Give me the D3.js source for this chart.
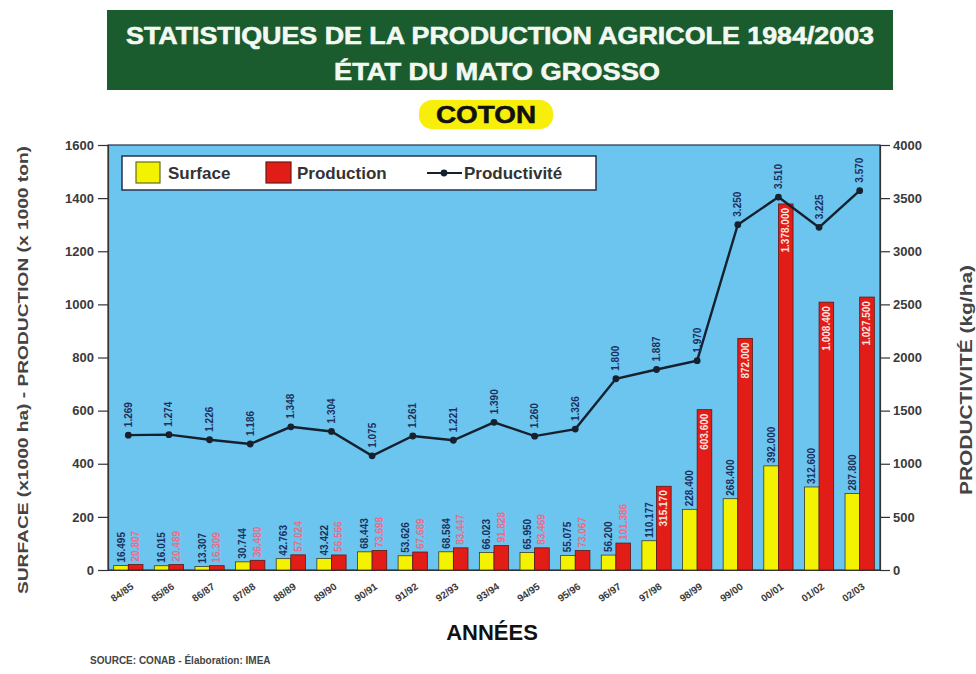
<!DOCTYPE html>
<html>
<head>
<meta charset="utf-8">
<script src="https://cdn.jsdelivr.net/npm/d3@7"></script>
<style>
  html, body { margin: 0; padding: 0; background: #ffffff; }
  svg { display: block; }
  text { font-family: "Liberation Sans", Arial, sans-serif; }
</style>
</head>
<body>
<svg id="chart" width="976" height="674"></svg>
<script>
// Crop years
const years = ["84/85","85/86","86/87","87/88","88/89","89/90","90/91","91/92","92/93","93/94",
               "94/95","95/96","96/97","97/98","98/99","99/00","00/01","01/02","02/03"];
// Planted area (x1000 ha)
const surface = [16.495, 16.015, 13.307, 30.744, 42.763, 43.422, 68.443, 53.626, 68.584, 66.023,
                 65.950, 55.075, 56.200, 110.177, 228.400, 268.400, 392.000, 312.600, 287.800];
// Production (x1000 ton)
const production = [20.807, 20.489, 16.309, 36.480, 57.024, 56.566, 73.698, 67.689, 83.447, 91.828,
                    83.469, 73.067, 101.386, 315.170, 603.600, 872.000, 1378.000, 1008.400, 1027.500];
// Yield (kg/ha)
const productivity = [1269, 1274, 1226, 1186, 1348, 1304, 1075, 1261, 1221, 1390,
                      1260, 1326, 1800, 1887, 1970, 3250, 3510, 3225, 3570];
const leftTicks = [0, 200, 400, 600, 800, 1000, 1200, 1400, 1600];
const rightTicks = [0, 500, 1000, 1500, 2000, 2500, 3000, 3500, 4000];

// Brazilian number formatting (dot as thousands separator, three decimals)
const fmt3 = v => {
  const s = v.toFixed(3).split(".");
  const intPart = s[0].replace(/\B(?=(\d{3})+(?!\d))/g, ".");
  return intPart + "." + s[1];
};
const fmtYield = v => {
  const s = String(v);
  return s.length > 3 ? s.slice(0, s.length - 3) + "." + s.slice(-3) : s;
};

const svg = d3.select("#chart");
const plot = { left: 108, right: 880, top: 145, bottom: 570 };

// Header banner
svg.append("rect").attr("x", 107).attr("y", 10).attr("width", 786).attr("height", 80)
  .attr("fill", "#1b5c2f");
svg.append("text").attr("x", 500).attr("y", 44).attr("text-anchor", "middle")
  .attr("fill", "#f4f8f2").attr("font-size", 24).attr("font-weight", "bold")
  .attr("stroke", "#f4f8f2").attr("stroke-width", 0.6)
  .attr("textLength", 748).attr("lengthAdjust", "spacingAndGlyphs")
  .text("STATISTIQUES DE LA PRODUCTION AGRICOLE 1984/2003");
svg.append("text").attr("x", 497).attr("y", 80).attr("text-anchor", "middle")
  .attr("fill", "#f4f8f2").attr("font-size", 24).attr("font-weight", "bold")
  .attr("stroke", "#f4f8f2").attr("stroke-width", 0.6)
  .attr("textLength", 326).attr("lengthAdjust", "spacingAndGlyphs")
  .text("ÉTAT DU MATO GROSSO");

// Crop badge
svg.append("rect").attr("x", 419).attr("y", 100).attr("width", 134).attr("height", 29)
  .attr("rx", 13).attr("fill", "#f7ee0a");
svg.append("text").attr("x", 486).attr("y", 123).attr("text-anchor", "middle")
  .attr("fill", "#111").attr("font-size", 23).attr("font-weight", "bold")
  .attr("stroke", "#111").attr("stroke-width", 0.5)
  .attr("textLength", 100).attr("lengthAdjust", "spacingAndGlyphs")
  .text("COTON");

// Scales
const x = d3.scaleBand().domain(years).range([plot.left, plot.right]).padding(0);
const yL = d3.scaleLinear().domain([0, 1600]).range([plot.bottom, plot.top]);
const yR = d3.scaleLinear().domain([0, 4000]).range([plot.bottom, plot.top]);
const bw = x.bandwidth();
const barW = bw * 0.36;
const cx = d => x(d) + bw / 2;

// Plot background
svg.append("rect").attr("x", plot.left).attr("y", plot.top)
  .attr("width", plot.right - plot.left).attr("height", plot.bottom - plot.top)
  .attr("fill", "#6cc5ef").attr("stroke", "#24324f").attr("stroke-width", 1.2);

// Axes
const axisStyle = g => {
  g.select(".domain").attr("stroke", "#333").attr("stroke-width", 1.2);
  g.selectAll(".tick line").attr("stroke", "#333").attr("stroke-width", 1.2);
  g.selectAll(".tick text").attr("fill", "#3a3a3a").attr("font-size", 13)
    .attr("font-weight", "bold");
};
svg.append("g").attr("transform", `translate(${plot.left},0)`)
  .call(d3.axisLeft(yL).tickValues(leftTicks).tickSize(10).tickPadding(4).tickFormat(d3.format("d")))
  .call(axisStyle);
svg.append("g").attr("transform", `translate(${plot.right},0)`)
  .call(d3.axisRight(yR).tickValues(rightTicks).tickSize(10).tickPadding(3).tickFormat(d3.format("d")))
  .call(axisStyle);

const xAxis = svg.append("g").attr("transform", `translate(0,${plot.bottom})`)
  .call(d3.axisBottom(x).tickSize(0).tickPadding(0));
xAxis.select(".domain").attr("stroke", "#333").attr("stroke-width", 1.2);
xAxis.selectAll(".tick text")
  .attr("fill", "#3a3a3a").attr("font-size", 10).attr("font-weight", "bold")
  .attr("text-anchor", "end").attr("dy", 0)
  .attr("transform", "translate(6,18) rotate(-35)");

// Bars
const bars = svg.append("g");
bars.selectAll("rect.surf").data(years).join("rect").attr("class", "surf")
  .attr("x", d => cx(d) - barW).attr("width", barW)
  .attr("y", (d, i) => yL(surface[i])).attr("height", (d, i) => yL(0) - yL(surface[i]))
  .attr("fill", "#f3f200").attr("stroke", "#3a3a2a").attr("stroke-width", 0.8);
bars.selectAll("rect.prod").data(years).join("rect").attr("class", "prod")
  .attr("x", d => cx(d)).attr("width", barW)
  .attr("y", (d, i) => yL(production[i])).attr("height", (d, i) => yL(0) - yL(production[i]))
  .attr("fill", "#e21d18").attr("stroke", "#5a1a14").attr("stroke-width", 0.8);

// Bar value labels (vertical)
const labels = svg.append("g").attr("font-size", 10).attr("font-weight", "bold");
labels.selectAll("text.surf").data(years).join("text").attr("class", "surf")
  .attr("transform", (d, i) => `translate(${cx(d) - barW / 2 + 3.5},${yL(surface[i]) - 3}) rotate(-90)`)
  .attr("text-anchor", "start").attr("fill", "#1d2f5c")
  .text((d, i) => fmt3(surface[i]));
labels.selectAll("text.prod").data(years).join("text").attr("class", "prod")
  .each(function(d, i) {
    const inside = production[i] > 300;
    d3.select(this)
      .attr("transform", `translate(${cx(d) + barW / 2 + 3.5},${inside ? yL(production[i]) + 4 : yL(production[i]) - 3}) rotate(-90)`)
      .attr("text-anchor", inside ? "end" : "start")
      .attr("fill", inside ? "#fbe6e0" : "#ee6b88");
  })
  .text((d, i) => fmt3(production[i]));

// Yield line
const line = d3.line().x(d => cx(d)).y((d, i) => yR(productivity[i]));
svg.append("path").datum(years).attr("d", line)
  .attr("fill", "none").attr("stroke", "#16202e").attr("stroke-width", 2.4);
svg.append("g").selectAll("circle").data(years).join("circle")
  .attr("cx", d => cx(d)).attr("cy", (d, i) => yR(productivity[i])).attr("r", 3.4)
  .attr("fill", "#16202e");
svg.append("g").attr("font-size", 10).attr("font-weight", "bold")
  .selectAll("text").data(years).join("text")
  .attr("transform", (d, i) => `translate(${cx(d) + 3.5},${yR(productivity[i]) - 8}) rotate(-90)`)
  .attr("text-anchor", "start").attr("fill", "#1d2f5c")
  .text((d, i) => fmtYield(productivity[i]));

// Legend
const lg = svg.append("g");
lg.append("rect").attr("x", 122).attr("y", 156).attr("width", 474).attr("height", 34)
  .attr("fill", "#ffffff").attr("stroke", "#24324f").attr("stroke-width", 1.5);
lg.append("rect").attr("x", 136).attr("y", 162).attr("width", 24).attr("height", 21)
  .attr("fill", "#f3f200").attr("stroke", "#6a6a20").attr("stroke-width", 1.2);
lg.append("text").attr("x", 168).attr("y", 179).attr("font-size", 17).attr("font-weight", "bold")
  .attr("fill", "#333").text("Surface");
lg.append("rect").attr("x", 266).attr("y", 162).attr("width", 25).attr("height", 21)
  .attr("fill", "#e21d18").attr("stroke", "#6a1a14").attr("stroke-width", 1.2);
lg.append("text").attr("x", 297).attr("y", 179).attr("font-size", 17).attr("font-weight", "bold")
  .attr("fill", "#333").text("Production");
lg.append("line").attr("x1", 427).attr("x2", 462).attr("y1", 173).attr("y2", 173)
  .attr("stroke", "#16202e").attr("stroke-width", 2.2);
lg.append("circle").attr("cx", 444).attr("cy", 173).attr("r", 3.4).attr("fill", "#16202e");
lg.append("text").attr("x", 464).attr("y", 179).attr("font-size", 17).attr("font-weight", "bold")
  .attr("fill", "#333").text("Productivité");

// Axis titles
svg.append("text").attr("transform", "translate(28,370) rotate(-90)")
  .attr("text-anchor", "middle").attr("font-size", 14).attr("font-weight", "bold")
  .attr("fill", "#444").attr("textLength", 448).attr("lengthAdjust", "spacingAndGlyphs")
  .text("SURFACE (x1000 ha) - PRODUCTION (x 1000 ton)");
svg.append("text").attr("transform", "translate(972,380) rotate(-90)")
  .attr("text-anchor", "middle").attr("font-size", 16).attr("font-weight", "bold")
  .attr("fill", "#444").attr("textLength", 230).attr("lengthAdjust", "spacingAndGlyphs")
  .text("PRODUCTIVITÉ (kg/ha)");
svg.append("text").attr("x", 492).attr("y", 640).attr("text-anchor", "middle")
  .attr("font-size", 22).attr("font-weight", "bold").attr("fill", "#111")
  .text("ANNÉES");
svg.append("text").attr("x", 90).attr("y", 664)
  .attr("font-size", 10).attr("font-weight", "bold").attr("fill", "#444")
  .text("SOURCE: CONAB - Élaboration: IMEA");
</script>
</body>
</html>
